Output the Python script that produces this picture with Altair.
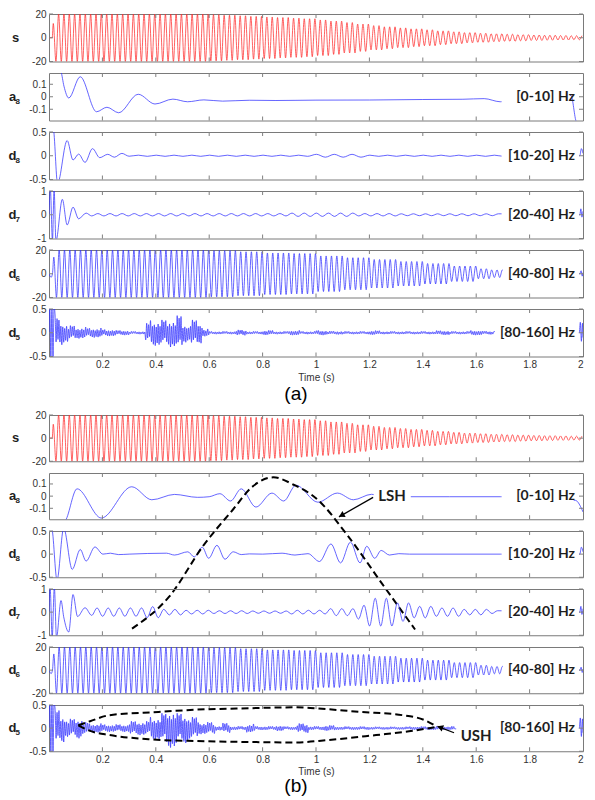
import altair as alt
import pandas as pd

# ---------------- layout / style constants ----------------
W = 534
HA = 47.5
HB = 46.25
GAP = 11
SPACER = 36
BLUE = '#3333ff'
RED = '#ff2e2e'
INK = '#1e1e1e'
TICK = '#808080'
AX_FONT = 'Liberation Sans'
BAND_FONT = 'Lato'

# ---------------- axes ----------------
X_TICKS = [0.2, 0.4, 0.6, 0.8, 1, 1.2, 1.4, 1.6, 1.8]
X_LABELS = [0.2, 0.4, 0.6, 0.8, 1, 1.2, 1.4, 1.6, 1.8, 2]
Y_S = [20, 0, -20]
Y_A8 = [0.1, 0, -0.1]
Y_D8 = [0.5, 0, -0.5]
Y_D7 = [1, 0, -1]
Y_D6 = [20, 0, -20]
Y_D5 = [0.5, 0, -0.5]
DOM_S = [-20, 20]
DOM_A8 = [-0.19, 0.19]
DOM_D8 = [-0.5, 0.5]
DOM_D7 = [-1, 1]
DOM_D6 = [-20, 20]
DOM_D5 = [-0.5, 0.5]
BANDS = ['[0-10] Hz', '[10-20] Hz', '[20-40] Hz', '[40-80] Hz', '[80-160] Hz']

# ---------------- signal s (red), carrier + envelope ----------------
S_HEAD_T = [0.0, 0.012]
S_HEAD_V = [0.0, 0.0]
S_FREQ = 50
S_ENV_T = [0.016, 0.026, 0.6, 0.65, 0.7, 0.75, 0.8, 0.85, 0.9, 0.95, 1.0, 1.05, 1.1, 1.15,
           1.2, 1.25, 1.3, 1.35, 1.4, 1.45, 1.5, 1.55, 1.6, 1.65, 1.7, 1.75, 1.8, 1.85, 1.9, 1.95]
S_ENV_A = [12, 20, 19.5, 19, 18.5, 18, 17.5, 17, 16.5, 16, 15, 14, 12.8, 11.5,
           10.2, 9.2, 8.3, 7.5, 6.7, 5.8, 5, 4.3, 3.8, 3.3, 3, 2.6, 2.3, 2.1, 1.9, 1.7]
S_END = 2.0

# ---------------- d6 [40-80] Hz ----------------
D6_HEAD_T = [0.0, 0.008, 0.013]
D6_HEAD_V = [0.0, -3.0, 0.0]
D6_FREQ = 50
D6_ENV_T = [0.018, 0.028, 0.6, 0.7, 0.8, 0.9, 1.0, 1.1, 1.2, 1.3, 1.4, 1.5, 1.6, 1.65]
D6_ENV_A = [14, 20, 19.5, 18.5, 17.5, 17, 15, 13.5, 12, 10.3, 8.6, 6.5, 4.2, 3.2]
D6_END = 1.7
D6_TAIL_T = [1.988, 1.993, 1.997, 2.0]
D6_TAIL_V = [0.0, 2.5, -2.0, 1.0]

# ---------------- a8 [0-10] Hz ----------------
A8A_T = [0.0, 0.03, 0.045, 0.056, 0.074, 0.117, 0.178, 0.217, 0.261, 0.334, 0.397, 0.464, 0.519,
         0.58, 0.65, 0.75, 0.85, 1.0, 1.2, 1.4, 1.55, 1.63, 1.69, 1.955, 1.975, 2.0]
A8A_V = [0.24, 0.24, 0.2, 0.085, -0.01, 0.16, -0.12, -0.084, -0.128, 0.02, -0.058, -0.019, -0.04,
         -0.025, -0.035, -0.028, -0.03, -0.027, -0.026, -0.022, -0.02, -0.015, -0.04, 0.01, -0.2, -0.24]
A8B_T = [0.0, 0.04, 0.062, 0.105, 0.196, 0.31, 0.385, 0.47, 0.556, 0.6, 0.64, 0.68, 0.72, 0.775,
         0.835, 0.879, 0.925, 1.007, 1.08, 1.14, 1.208, 1.25, 1.5, 1.69, 1.972, 1.994, 2.0]
A8B_V = [-0.24, -0.24, -0.2, 0.06, -0.18, 0.077, -0.03, 0.014, -0.01, -0.005, 0.02, -0.04, 0.06, -0.09,
         0.025, -0.04, 0.09, -0.05, 0.025, -0.03, 0.015, -0.005, -0.005, -0.005, -0.035, -0.1, -0.13]

# ---------------- d8 [10-20] Hz ----------------
D8A_HEAD_T = [0.0, 0.016, 0.032, 0.068, 0.09, 0.111, 0.135, 0.163, 0.19, 0.22, 0.245, 0.273, 0.3]
D8A_HEAD_V = [0.56, 0.56, -0.58, 0.32, -0.09, 0.035, -0.14, 0.15, -0.04, 0.03, -0.03, 0.05, -0.01]
D8A_FREQ = 15
D8A_ENV_T = [0.335, 1.0, 1.2]
D8A_ENV_A = [0.012, 0.03, 0.012]
D8A_END = 1.69
D8_TAIL_T = [1.988, 1.994, 2.0]
D8_TAIL_V = [0.0, 0.15, 0.05]
D8B_T = [0.0, 0.01, 0.03, 0.055, 0.087, 0.117, 0.139, 0.172, 0.202, 0.23, 0.26, 0.3, 0.44, 0.47,
         0.52, 0.544, 0.574, 0.598, 0.629, 0.659, 0.69, 0.72, 0.75, 0.8, 0.873, 0.921, 0.97, 1.013,
         1.056, 1.092, 1.129, 1.165, 1.19, 1.22, 1.244, 1.275, 1.31, 1.35, 1.69]
D8B_V = [0.56, 0.56, -0.56, 0.56, -0.33, 0.1, -0.15, 0.155, 0.0, 0.02, -0.01, 0.0, 0.02, -0.02,
         0.05, -0.06, 0.15, -0.09, 0.19, -0.11, 0.05, -0.01, 0.005, 0.0, 0.02, -0.02, 0.01, -0.16,
         0.22, -0.19, 0.26, -0.19, 0.17, -0.09, 0.08, -0.02, 0.01, 0.0, 0.0]

# ---------------- d7 [20-40] Hz ----------------
D7A_HEAD_T = [0.0, 0.005, 0.013, 0.019, 0.026, 0.05, 0.068, 0.09, 0.111, 0.139, 0.16]
D7A_HEAD_V = [0.0, 1.1, -1.1, 1.1, -1.1, 0.65, -0.43, 0.32, -0.17, 0.07, -0.05]
D7A_FREQ = 22
D7A_ENV_T = [0.183, 0.9, 1.15, 1.3]
D7A_ENV_A = [0.05, 0.07, 0.05, 0.04]
D7_END = 1.69
D7_TAIL_T = [1.988, 1.992, 1.996, 2.0]
D7_TAIL_V = [0.0, 0.25, -0.1, 0.15]
D7B_HEAD_T = [0.0, 0.004, 0.012, 0.02, 0.028, 0.045, 0.055, 0.074, 0.09, 0.107, 0.135, 0.16]
D7B_HEAD_V = [0.0, 1.1, -1.1, 1.1, -1.1, 0.5, -0.2, -0.86, 0.76, -0.19, 0.19, -0.14]
D7B_FREQ = 24
D7B_ENV_T = [0.18, 0.35, 0.42, 0.5, 0.6, 0.75, 0.9, 1.05, 1.15, 1.2, 1.3, 1.35, 1.45, 1.55, 1.65]
D7B_ENV_A = [0.18, 0.24, 0.12, 0.08, 0.06, 0.05, 0.08, 0.15, 0.3, 0.6, 0.4, 0.25, 0.18, 0.12, 0.06]

# ---------------- d5 [80-160] Hz ----------------
D5_HEAD_T = [0.0, 0.003, 0.007, 0.011, 0.015, 0.019]
D5_HEAD_V = [0.0, 0.55, -0.55, 0.55, -0.55, 0.55]
D5_FREQ = 140
D5_JIT = [1.0, 0.55, 0.85, 0.4, 0.95, 0.7, 0.5, 0.9, 0.62, 1.0, 0.45, 0.8, 0.68, 0.92, 0.5, 0.75]
D5A_ENV_T = [0.023, 0.035, 0.05, 0.07, 0.1, 0.14, 0.2, 0.25, 0.3, 0.36, 0.38, 0.45, 0.48, 0.5,
             0.52, 0.53, 0.56, 0.575, 0.6, 0.7, 0.74, 0.8, 0.84, 0.9, 0.94, 1.0, 1.04, 1.1, 1.2,
             1.24, 1.3, 1.45, 1.5, 1.58, 1.62]
D5A_ENV_A = [0.35, 0.28, 0.2, 0.15, 0.12, 0.1, 0.07, 0.05, 0.03, 0.2, 0.27, 0.3, 0.36, 0.2,
             0.15, 0.27, 0.22, 0.08, 0.03, 0.06, 0.03, 0.05, 0.03, 0.05, 0.03, 0.05, 0.035, 0.03, 0.045,
             0.03, 0.03, 0.045, 0.03, 0.05, 0.035]
D5A_END = 1.665
D5B_ENV_T = [0.023, 0.04, 0.06, 0.1, 0.125, 0.15, 0.2, 0.3, 0.38, 0.42, 0.44, 0.48, 0.52, 0.56,
             0.62, 0.65, 0.68, 0.74, 0.77, 0.85, 0.88, 0.93, 0.97, 1.03, 1.07, 1.2, 1.35, 1.42]
D5B_ENV_A = [0.4, 0.3, 0.2, 0.22, 0.13, 0.1, 0.08, 0.15, 0.25, 0.32, 0.42, 0.32, 0.24, 0.13,
             0.05, 0.11, 0.04, 0.09, 0.04, 0.06, 0.035, 0.1, 0.04, 0.06, 0.035, 0.03, 0.035, 0.04]
D5B_END = 1.52
D5_TAIL_T = [1.986, 1.99, 1.994, 1.998, 2.0]
D5_TAIL_V = [0.0, 0.22, -0.18, 0.2, -0.1]

# ---------------- annotations of (b) ----------------
HUMP_T = [0.311, 0.45, 0.58, 0.69, 0.76, 0.84, 0.92, 1.0, 1.12, 1.25, 1.371]  # in d8(b) units
HUMP_V = [-1.61, -0.92, 0.2, 0.97, 1.45, 1.66, 1.49, 1.21, 0.39, -0.66, -1.63]
ELL_TOP_T = [0.110, 0.154, 0.227, 0.41, 0.556, 0.75, 0.921, 0.995, 1.165, 1.324, 1.408, 1.444]
ELL_TOP_V = [0.06, 0.15, 0.28, 0.35, 0.40, 0.43, 0.45, 0.43, 0.35, 0.28, 0.17, 0.06]
ELL_BOT_T = [0.110, 0.154, 0.227, 0.373, 0.556, 0.75, 0.921, 1.042, 1.225, 1.348, 1.444]
ELL_BOT_V = [0.06, -0.06, -0.15, -0.24, -0.28, -0.30, -0.31, -0.26, -0.15, -0.07, 0.02]
LSH_ARROW_T = [1.214, 1.086]
LSH_ARROW_V = [-0.01, -0.17]
LSH_HEAD = (1.0955, -0.158, 241.5)
USH_ARROW_T = [1.517, 1.455]
USH_ARROW_V = [-0.1, 0.04]
USH_HEAD = (1.465, 0.018, 291)


def signal(head_t=(), head_v=(), env_t=None, env_a=None, t_end=None, freq=None,
           jit=None, tail_t=(), tail_v=()):
    ts, vs = list(head_t), list(head_v)
    if env_t:
        h = 0.5 / freq
        n = int(round((t_end - env_t[0]) / h))
        sign, j = 1, 0
        for k in range(n + 1):
            t = env_t[0] + k * h
            while j + 1 < len(env_t) and env_t[j + 1] <= t + 1e-9:
                j += 1
            a = env_a[j] * (jit[k % len(jit)] if jit else 1.0)
            ts.append(round(t, 5))
            vs.append(sign * a)
            sign = -sign
    ts += list(tail_t)
    vs += list(tail_v)
    return pd.DataFrame({'t': ts, 'v': vs})


ONE = pd.DataFrame({'a': [0]})


def panel(df, dom, yvals, letter, sub, H, color=BLUE, band=None, boxes=(), tag=None, tag_dy=38,
          tag_size=19, title_pad=2, extra=None):
    xs = alt.Scale(domain=[0, 2], nice=False, zero=False)
    ys = alt.Scale(domain=dom, nice=False, zero=False)
    xaxis = None
    if tag:
        xaxis = alt.Axis(values=X_LABELS, labelExpr="datum.value + ''", title='Time (s)',
                         ticks=False, tickSize=0, domain=False, grid=False, labelPadding=3,
                         titlePadding=title_pad, labelFlush=True, labelOverlap=False)
    yaxis = alt.Axis(values=yvals, labelExpr="datum.value + ''", ticks=False, tickSize=0,
                     domain=False, grid=False, title=None, labelPadding=3, labelOverlap=False)

    def X(f='t'):
        return alt.X(f + ':Q', scale=xs, axis=xaxis)

    def Y(f='v'):
        return alt.Y(f + ':Q', scale=ys, axis=yaxis)

    layers = [alt.Chart(df).mark_line(clip=True, interpolate='monotone', color=color,
                                      strokeWidth=0.75).encode(x=X(), y=Y())]
    for b0, b1 in boxes:
        layers.append(alt.Chart(pd.DataFrame({'t': [b0], 't2': [b1]})).mark_rect(color='white').encode(
            x=X(), x2='t2:Q', y=alt.value(1.5), y2=alt.value(H - 1.5)))
    xt = pd.DataFrame({'t': X_TICKS})
    yt = pd.DataFrame({'v': yvals})
    layers.append(alt.Chart(xt).mark_rule(color=TICK, strokeWidth=1).encode(
        x=X(), y=alt.value(0), y2=alt.value(4)))
    layers.append(alt.Chart(xt).mark_rule(color=TICK, strokeWidth=1).encode(
        x=X(), y=alt.value(H - 4), y2=alt.value(H)))
    layers.append(alt.Chart(yt).mark_rule(color=TICK, strokeWidth=1).encode(
        y=Y(), x=alt.value(0), x2=alt.value(4)))
    layers.append(alt.Chart(yt).mark_rule(color=TICK, strokeWidth=1).encode(
        y=Y(), x=alt.value(W - 4), x2=alt.value(W)))
    if extra:
        layers += extra(X, Y)
    layers.append(alt.Chart(ONE).mark_text(font=AX_FONT, fontWeight='bold', fontSize=13, color=INK,
                                           align='center', baseline='middle').encode(
        x=alt.value(-36.5 if sub else -33.5), y=alt.value(H / 2), text=alt.value(letter)))
    if sub:
        layers.append(alt.Chart(ONE).mark_text(font=AX_FONT, fontWeight='bold', fontSize=8, color=INK,
                                               align='center', baseline='middle').encode(
            x=alt.value(-31.3), y=alt.value(H / 2 + 5), text=alt.value(sub)))
    if band:
        layers.append(alt.Chart(pd.DataFrame({'t': [1.97], 'v': [(dom[0] + dom[1]) / 2],
                                              'lab': [band]})).mark_text(
            font=BAND_FONT, fontWeight='bold', fontSize=14, color=INK, align='right',
            baseline='middle').encode(x=X(), y=Y(), text='lab:N'))
    if tag:
        layers.append(alt.Chart(pd.DataFrame({'t': [0.925], 'lab': [tag]})).mark_text(
            font=AX_FONT, fontSize=tag_size, color='black', align='center', baseline='middle').encode(
            x=X(), y=alt.value(H + tag_dy), text='lab:N'))
    return alt.layer(*layers).properties(width=W, height=H)


# ---------------- signals ----------------
sig_s = signal(S_HEAD_T, S_HEAD_V, S_ENV_T, S_ENV_A, S_END, S_FREQ)
sig_d6 = signal(D6_HEAD_T, D6_HEAD_V, D6_ENV_T, D6_ENV_A, D6_END, D6_FREQ,
                tail_t=D6_TAIL_T, tail_v=D6_TAIL_V)
sig_a8a = signal(A8A_T, A8A_V)
sig_a8b = signal(A8B_T, A8B_V)
sig_d8a = signal(D8A_HEAD_T, D8A_HEAD_V, D8A_ENV_T, D8A_ENV_A, D8A_END, D8A_FREQ,
                 tail_t=D8_TAIL_T, tail_v=D8_TAIL_V)
sig_d8b = signal(D8B_T, D8B_V, tail_t=D8_TAIL_T, tail_v=D8_TAIL_V)
sig_d7a = signal(D7A_HEAD_T, D7A_HEAD_V, D7A_ENV_T, D7A_ENV_A, D7_END, D7A_FREQ,
                 tail_t=D7_TAIL_T, tail_v=D7_TAIL_V)
sig_d7b = signal(D7B_HEAD_T, D7B_HEAD_V, D7B_ENV_T, D7B_ENV_A, D7_END, D7B_FREQ,
                 tail_t=D7_TAIL_T, tail_v=D7_TAIL_V)
sig_d5a = signal(D5_HEAD_T, D5_HEAD_V, D5A_ENV_T, D5A_ENV_A, D5A_END, D5_FREQ, jit=D5_JIT,
                 tail_t=D5_TAIL_T, tail_v=D5_TAIL_V)
sig_d5b = signal(D5_HEAD_T, D5_HEAD_V, D5B_ENV_T, D5B_ENV_A, D5B_END, D5_FREQ, jit=D5_JIT,
                 tail_t=D5_TAIL_T, tail_v=D5_TAIL_V)


def dashed(X, Y, ts, vs, part):
    return alt.Chart(pd.DataFrame({'t': ts, 'v': vs, 'p': [part] * len(ts)})).mark_line(
        color='black', strokeWidth=2, strokeDash=[7, 4], interpolate='monotone').encode(
        x=X(), y=Y(), detail='p:N')


def arrow(X, Y, ts, vs, head):
    line = alt.Chart(pd.DataFrame({'t': ts, 'v': vs})).mark_line(color='black', strokeWidth=1.3).encode(
        x=X(), y=Y())
    tip = alt.Chart(pd.DataFrame({'t': [head[0]], 'v': [head[1]]})).mark_point(
        shape='triangle-up', filled=True, size=45, color='black', opacity=1, angle=head[2]).encode(
        x=X(), y=Y())
    return [line, tip]


def a8b_extra(X, Y):
    txt = alt.Chart(pd.DataFrame({'t': [1.285], 'v': [0.0], 'lab': ['LSH']})).mark_text(
        font=BAND_FONT, fontWeight='bold', fontSize=15, color=INK, align='center',
        baseline='middle').encode(x=X(), y=Y(), text='lab:N')
    return arrow(X, Y, LSH_ARROW_T, LSH_ARROW_V, LSH_HEAD) + [txt]


def d8b_extra(X, Y):
    return [dashed(X, Y, HUMP_T, HUMP_V, 'hump')]


def d5b_extra(X, Y):
    txt = alt.Chart(pd.DataFrame({'t': [1.6], 'v': [-0.18], 'lab': ['USH']})).mark_text(
        font=BAND_FONT, fontWeight='bold', fontSize=15, color=INK, align='center',
        baseline='middle').encode(x=X(), y=Y(), text='lab:N')
    return [dashed(X, Y, ELL_TOP_T, ELL_TOP_V, 'top'), dashed(X, Y, ELL_BOT_T, ELL_BOT_V, 'bot')] + \
        arrow(X, Y, USH_ARROW_T, USH_ARROW_V, USH_HEAD) + [txt]


group_a = [
    panel(sig_s, DOM_S, Y_S, 's', None, HA, color=RED),
    panel(sig_a8a, DOM_A8, Y_A8, 'a', '8', HA, band=BANDS[0], boxes=[(1.695, 1.952)]),
    panel(sig_d8a, DOM_D8, Y_D8, 'd', '8', HA, band=BANDS[1], boxes=[(1.695, 1.985)]),
    panel(sig_d7a, DOM_D7, Y_D7, 'd', '7', HA, band=BANDS[2], boxes=[(1.695, 1.985)]),
    panel(sig_d6, DOM_D6, Y_D6, 'd', '6', HA, band=BANDS[3], boxes=[(1.7, 1.985)]),
    panel(sig_d5a, DOM_D5, Y_D5, 'd', '5', HA, band=BANDS[4], boxes=[(1.67, 1.984)], tag='(a)',
          tag_dy=37.5, tag_size=19, title_pad=3),
]
group_b = [
    panel(sig_s, DOM_S, Y_S, 's', None, HB, color=RED),
    panel(sig_a8b, DOM_A8, Y_A8, 'a', '8', HB, band=BANDS[0],
          boxes=[(1.216, 1.355), (1.695, 1.965)], extra=a8b_extra),
    panel(sig_d8b, DOM_D8, Y_D8, 'd', '8', HB, band=BANDS[1], boxes=[(1.695, 1.985)],
          extra=d8b_extra),
    panel(sig_d7b, DOM_D7, Y_D7, 'd', '7', HB, band=BANDS[2], boxes=[(1.695, 1.985)]),
    panel(sig_d6, DOM_D6, Y_D6, 'd', '6', HB, band=BANDS[3], boxes=[(1.7, 1.985)]),
    panel(sig_d5b, DOM_D5, Y_D5, 'd', '5', HB, band=BANDS[4], boxes=[(1.525, 1.984)],
          tag='(b)', tag_dy=35, tag_size=19, title_pad=2, extra=d5b_extra),
]

spacer = alt.Chart(ONE).mark_point(opacity=0).encode(
    x=alt.value(0), y=alt.value(0)).properties(width=W, height=SPACER,
                                               view=alt.ViewBackground(strokeOpacity=0))

chart = alt.vconcat(*group_a, spacer, *group_b, spacing=GAP, bounds='flush').properties(
    padding={'left': 0, 'top': 0, 'right': 0, 'bottom': 0}
).configure_view(stroke='#7a7a7a', strokeWidth=1).configure_axis(
    labelFont=AX_FONT, labelFontSize=10, labelColor='#333333',
    titleFont=AX_FONT, titleFontSize=10, titleFontWeight='normal', titleColor='#333333')

chart.save('out.html', embed_options={'renderer': 'svg', 'actions': False})
